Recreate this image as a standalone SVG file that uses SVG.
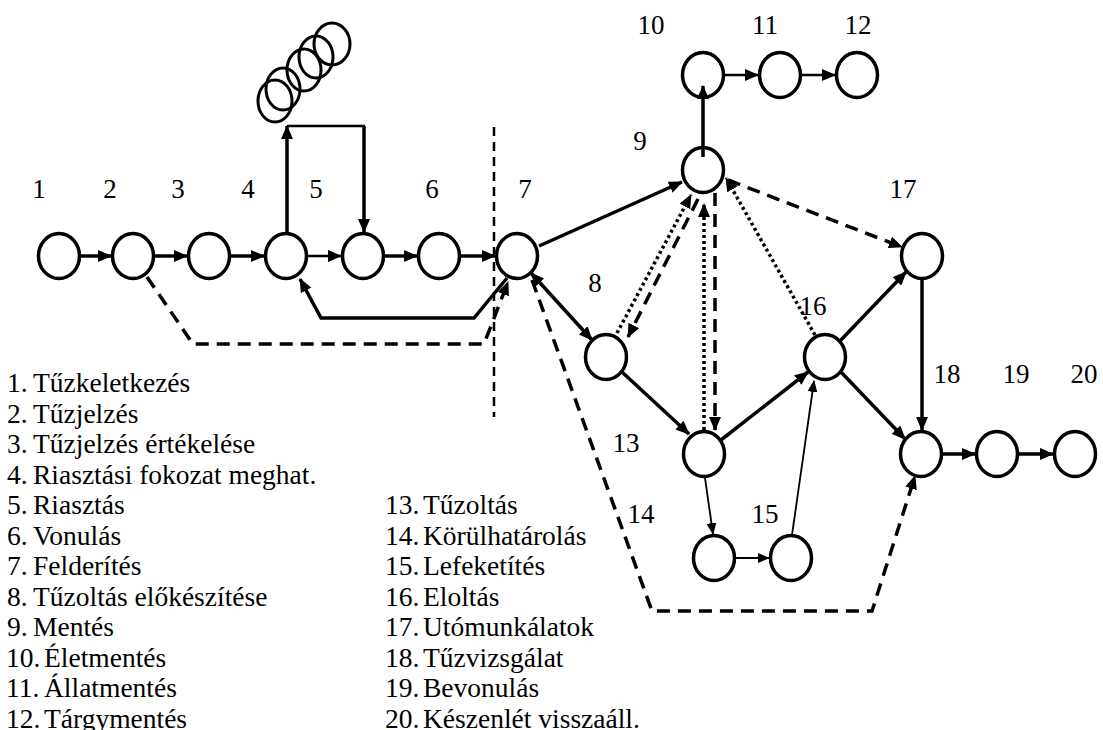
<svg xmlns="http://www.w3.org/2000/svg" width="1103" height="730" viewBox="0 0 1103 730">
<style>
.node{fill:none;stroke:#000;stroke-width:3.5}
.stk{fill:none;stroke:#000;stroke-width:3}
.c{fill:none;stroke:#000;stroke-width:3.5}
.m{fill:none;stroke:#000;stroke-width:2.5}
.thin{fill:none;stroke:#000;stroke-width:1.8}
.dash{fill:none;stroke:#000;stroke-width:3.5;stroke-dasharray:13 8}
.dot{fill:none;stroke:#000;stroke-width:3.5;stroke-dasharray:3 3}
.sep{fill:none;stroke:#000;stroke-width:2.5;stroke-dasharray:9 6}
.lbl{font-size:27px;fill:#000;text-anchor:middle}
.leg{font-size:27.5px;fill:#000}
</style>
<defs>
<marker id="ah" viewBox="0 0 14 12" refX="13" refY="6" markerWidth="14" markerHeight="12" markerUnits="userSpaceOnUse" orient="auto-start-reverse"><path d="M0,0 L14,6 L0,12 z" fill="#000"/></marker>
<marker id="ahs" viewBox="0 0 12 10" refX="11" refY="5" markerWidth="12" markerHeight="10" markerUnits="userSpaceOnUse" orient="auto"><path d="M0,0 L12,5 L0,10 z" fill="#000"/></marker>
</defs>
<rect width="1103" height="730" fill="#fff"/>

<g id="nodes" font-family="Liberation Serif, Times New Roman, serif">
<g id="n1"><ellipse class="node" cx="59" cy="256" rx="20.5" ry="22.5"/><text class="lbl" x="39" y="198">1</text></g>
<g id="n2"><ellipse class="node" cx="133" cy="256" rx="20.5" ry="22.5"/><text class="lbl" x="110" y="198">2</text></g>
<g id="n3"><ellipse class="node" cx="209" cy="256" rx="20.5" ry="22.5"/><text class="lbl" x="178" y="198">3</text></g>
<g id="n4"><ellipse class="node" cx="286" cy="256" rx="20.5" ry="22.5"/><text class="lbl" x="248" y="198">4</text></g>
<g id="n5"><ellipse class="node" cx="363" cy="256" rx="20.5" ry="22.5"/><text class="lbl" x="316" y="198">5</text></g>
<g id="n6"><ellipse class="node" cx="439" cy="256" rx="20.5" ry="22.5"/><text class="lbl" x="432" y="198">6</text></g>
<g id="n7"><ellipse class="node" cx="517" cy="256" rx="20.5" ry="22.5"/><text class="lbl" x="525" y="198">7</text></g>
<g id="n8"><ellipse class="node" cx="606" cy="357" rx="20.5" ry="22.5"/><text class="lbl" x="595" y="292">8</text></g>
<g id="n9"><ellipse class="node" cx="703" cy="170" rx="20.5" ry="22.5"/><text class="lbl" x="640" y="150">9</text></g>
<g id="n10"><ellipse class="node" cx="703" cy="75" rx="20.5" ry="22.5"/><text class="lbl" x="651" y="34">10</text></g>
<g id="n11"><ellipse class="node" cx="780" cy="75" rx="20.5" ry="22.5"/><text class="lbl" x="765" y="34">11</text></g>
<g id="n12"><ellipse class="node" cx="857" cy="75" rx="20.5" ry="22.5"/><text class="lbl" x="858" y="34">12</text></g>
<g id="n13"><ellipse class="node" cx="704" cy="454" rx="20.5" ry="22.5"/><text class="lbl" x="626" y="452">13</text></g>
<g id="n14"><ellipse class="node" cx="714" cy="558" rx="20.5" ry="22.5"/><text class="lbl" x="641" y="523">14</text></g>
<g id="n15"><ellipse class="node" cx="791" cy="558" rx="20.5" ry="22.5"/><text class="lbl" x="765" y="523">15</text></g>
<g id="n16"><ellipse class="node" cx="825" cy="357" rx="20.5" ry="22.5"/><text class="lbl" x="813" y="315">16</text></g>
<g id="n17"><ellipse class="node" cx="922" cy="256" rx="20.5" ry="22.5"/><text class="lbl" x="903" y="198">17</text></g>
<g id="n18"><ellipse class="node" cx="921" cy="454" rx="20.5" ry="22.5"/><text class="lbl" x="947" y="383">18</text></g>
<g id="n19"><ellipse class="node" cx="997" cy="454" rx="20.5" ry="22.5"/><text class="lbl" x="1016" y="383">19</text></g>
<g id="n20"><ellipse class="node" cx="1075" cy="454" rx="20.5" ry="22.5"/><text class="lbl" x="1084" y="383">20</text></g>
</g>

<g id="stack">
<ellipse class="stk" cx="275" cy="101" rx="17" ry="21"/>
<ellipse class="stk" cx="283" cy="89" rx="17" ry="21"/>
<ellipse class="stk" cx="304" cy="70" rx="17" ry="21"/>
<ellipse class="stk" cx="316" cy="57" rx="17" ry="21"/>
<ellipse class="stk" cx="332" cy="44" rx="18" ry="21"/>
</g>

<g id="connectors">
<line class="c" x1="81" y1="256" x2="111" y2="256" marker-end="url(#ah)"/>
<line class="c" x1="155" y1="256" x2="187" y2="256" marker-end="url(#ah)"/>
<line class="c" x1="231" y1="256" x2="264" y2="256" marker-end="url(#ah)"/>
<line class="m" x1="308" y1="256" x2="341" y2="256" marker-end="url(#ah)"/>
<line class="c" x1="385" y1="256" x2="417" y2="256" marker-end="url(#ah)"/>
<line class="c" x1="461" y1="256" x2="495" y2="256" marker-end="url(#ah)"/>
<line class="c" x1="287" y1="233" x2="287" y2="126" marker-end="url(#ah)"/>
<line class="m" x1="287" y1="126" x2="365" y2="126"/>
<line class="c" x1="364" y1="126" x2="364" y2="232" marker-end="url(#ah)"/>
<polyline class="c" points="507,278 474,318 321,318 300,279" marker-end="url(#ah)"/>
<polyline class="dash" points="147,277 193,344 484,344 508,282" marker-end="url(#ah)"/>
<line class="sep" x1="494" y1="127" x2="494" y2="417"/>
<line class="c" x1="539" y1="246" x2="682" y2="182" marker-end="url(#ah)"/>
<line class="c" x1="531" y1="273" x2="592" y2="340" marker-start="url(#ah)" marker-end="url(#ah)"/>
<line class="c" x1="622" y1="372" x2="689" y2="434" marker-end="url(#ah)"/>
<line class="c" x1="721" y1="440" x2="808" y2="372" marker-end="url(#ah)"/>
<line class="thin" x1="792" y1="535" x2="814" y2="381" marker-end="url(#ahs)"/>
<line class="c" x1="840" y1="341" x2="906" y2="272" marker-end="url(#ah)"/>
<line class="c" x1="841" y1="372" x2="905" y2="439" marker-end="url(#ah)"/>
<line class="c" x1="922" y1="280" x2="922" y2="430" marker-end="url(#ah)"/>
<line class="c" x1="943" y1="454" x2="975" y2="454" marker-end="url(#ah)"/>
<line class="c" x1="1019" y1="454" x2="1053" y2="454" marker-end="url(#ah)"/>
<line class="c" x1="703" y1="157" x2="703" y2="86" marker-end="url(#ah)"/>
<line class="m" x1="725" y1="75" x2="758" y2="75" marker-end="url(#ah)"/>
<line class="m" x1="802" y1="75" x2="835" y2="75" marker-end="url(#ah)"/>
<line class="thin" x1="705" y1="478" x2="713" y2="534" marker-end="url(#ahs)"/>
<line class="thin" x1="736" y1="558" x2="769" y2="558" marker-end="url(#ahs)"/>
<line class="dot" x1="617" y1="333" x2="691" y2="195" marker-end="url(#ah)"/>
<line class="dash" x1="698" y1="199" x2="628" y2="337" marker-end="url(#ah)"/>
<line class="dot" x1="704" y1="430" x2="704" y2="204" marker-end="url(#ah)"/>
<line class="dash" x1="715" y1="193" x2="715" y2="430" marker-end="url(#ah)"/>
<line class="dot" x1="815" y1="335" x2="726" y2="178" marker-end="url(#ah)"/>
<line class="dash" x1="728" y1="180" x2="902" y2="247" marker-end="url(#ah)"/>
<polyline class="dash" points="532,280 652,611 872,611 915,476" marker-end="url(#ah)"/>
</g>

<g id="legend" class="leg" font-family="Liberation Serif, Times New Roman, serif">
<text x="7" y="392">1.</text><text x="33" y="392">Tűzkeletkezés</text>
<text x="7" y="422.5">2.</text><text x="33" y="422.5">Tűzjelzés</text>
<text x="7" y="453">3.</text><text x="33" y="453">Tűzjelzés értékelése</text>
<text x="7" y="483.5">4.</text><text x="33" y="483.5">Riasztási fokozat meghat.</text>
<text x="7" y="514">5.</text><text x="33" y="514">Riasztás</text>
<text x="7" y="544.5">6.</text><text x="33" y="544.5">Vonulás</text>
<text x="7" y="575">7.</text><text x="33" y="575">Felderítés</text>
<text x="7" y="605.5">8.</text><text x="33" y="605.5">Tűzoltás előkészítése</text>
<text x="7" y="636">9.</text><text x="33" y="636">Mentés</text>
<text x="6" y="666.5">10.</text><text x="44" y="666.5">Életmentés</text>
<text x="6" y="697">11.</text><text x="44" y="697">Állatmentés</text>
<text x="6" y="727.5">12.</text><text x="44" y="727.5">Tárgymentés</text>
<text x="385" y="514">13.</text><text x="423" y="514">Tűzoltás</text>
<text x="385" y="544.5">14.</text><text x="423" y="544.5">Körülhatárolás</text>
<text x="385" y="575">15.</text><text x="423" y="575">Lefeketítés</text>
<text x="385" y="605.5">16.</text><text x="423" y="605.5">Eloltás</text>
<text x="385" y="636">17.</text><text x="423" y="636">Utómunkálatok</text>
<text x="385" y="666.5">18.</text><text x="423" y="666.5">Tűzvizsgálat</text>
<text x="385" y="697">19.</text><text x="423" y="697">Bevonulás</text>
<text x="385" y="727.5">20.</text><text x="423" y="727.5">Készenlét visszaáll.</text>
</g>
</svg>
